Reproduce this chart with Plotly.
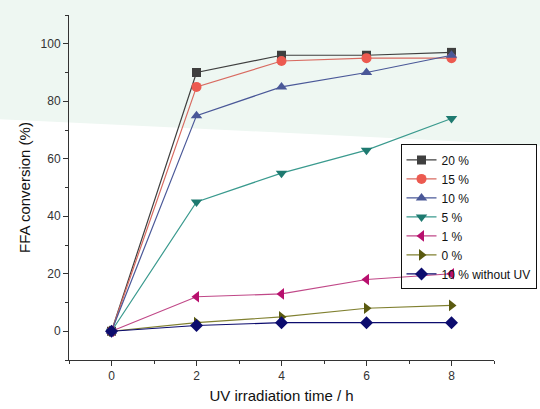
import plotly.graph_objects as go

time_h = [0, 2, 4, 6, 8]
s20 = [0, 90, 96, 96, 97]
s15 = [0, 85, 94, 95, 95]
s10 = [0, 75, 85, 90, 96]
s5 = [0, 45, 55, 63, 74]
s1 = [0, 12, 13, 18, 20]
s0 = [0, 3, 5, 8, 9]
s10_noUV = [0, 2, 3, 3, 3]

names = ["20 %", "15 %", "10 %", "5 %", "1 %", "0 %", "10 % without UV"]
series = [s20, s15, s10, s5, s1, s0, s10_noUV]
marker_colors = ["#3f3f3f", "#ec5a50", "#4a5898", "#1e7a70", "#b8106e", "#5a5a10", "#0c0c6e"]
line_colors = ["#3f3f3f", "#d86a60", "#4a5898", "#3a9a8e", "#c04888", "#808030", "#0c0c6e"]
symbols = ["square", "circle", "triangle-up", "triangle-down", "triangle-left", "triangle-right", "diamond"]
sizes = [9, 10, 10, 10, 10, 10, 10]

fig = go.Figure()
for name, ys, mc, lc, sym, sz in zip(names, series, marker_colors, line_colors, symbols, sizes):
    fig.add_trace(go.Scatter(
        x=time_h, y=ys, name=name, mode="lines+markers",
        line=dict(color=lc, width=1.2),
        marker=dict(symbol=sym, color=mc, size=sz, line=dict(width=0)),
    ))

# faint watermark-like mint background in the upper part
fig.add_shape(type="path", xref="paper", yref="paper", layer="below",
              path="M -0.2 1.05 L 1.12 1.05 L 1.12 0.62 Q 0.5 0.66 -0.2 0.7 Z",
              fillcolor="#eef7f2", line=dict(width=0))

axis_common = dict(
    showline=True, linecolor="#333", linewidth=1, ticks="outside", ticklen=5,
    tickcolor="#333", showgrid=False, zeroline=False, mirror=False, automargin=False,
    tickfont=dict(family="Arial, Liberation Sans", size=12, color="#333"),
)
fig.update_xaxes(range=[-1, 9], tickvals=[0, 2, 4, 6, 8],
                 minor=dict(ticks="outside", ticklen=3, dtick=1, tick0=0, tickcolor="#333"),
                 title=dict(text="UV irradiation time / h",
                            font=dict(family="Arial, Liberation Sans", size=15, color="#111"),
                            standoff=8),
                 **axis_common)
fig.update_yaxes(range=[-10, 110], tickvals=[0, 20, 40, 60, 80, 100],
                 minor=dict(ticks="outside", ticklen=3, dtick=10, tick0=0, tickcolor="#333"),
                 title=dict(text="FFA conversion (%)",
                            font=dict(family="Arial, Liberation Sans", size=15, color="#111"),
                            standoff=6),
                 **axis_common)

fig.update_layout(
    width=540, height=409,
    margin=dict(l=69, r=46, t=15, b=49, autoexpand=False),
    paper_bgcolor="white", plot_bgcolor="rgba(0,0,0,0)",
    showlegend=True,
    legend=dict(x=0.78, y=0.625, xanchor="left", yanchor="top",
                bgcolor="rgba(255,255,255,0)", bordercolor="#111", borderwidth=1,
                font=dict(family="Arial, Liberation Sans", size=12, color="#111"),
                itemwidth=30, tracegroupgap=0),
)

fig.write_html("out.html")
